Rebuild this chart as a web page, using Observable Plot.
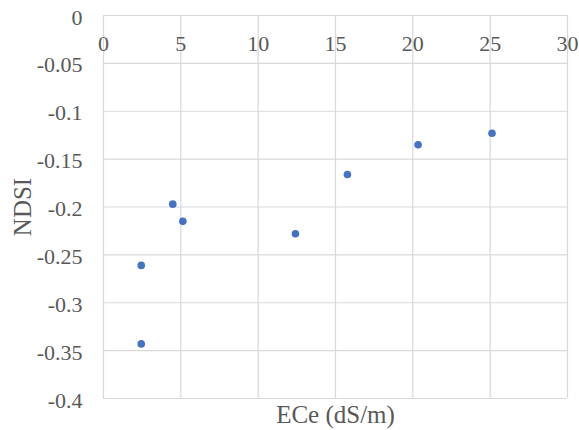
<!DOCTYPE html>
<html>
<head>
<meta charset="utf-8">
<script src="https://cdn.jsdelivr.net/npm/d3@7"></script>
<script src="https://cdn.jsdelivr.net/npm/@observablehq/plot@0.6"></script>
<style>
  html, body { margin: 0; padding: 0; background: #fff; }
  #chart svg { display: block; }
</style>
</head>
<body>
<div id="chart"></div>
<script>
const ece  = [2.44, 2.44, 4.48, 5.13, 12.41, 15.77, 20.34, 25.12];
const ndsi = [-0.261, -0.343, -0.197, -0.215, -0.228, -0.166, -0.135, -0.123];
const xTicks = [0, 5, 10, 15, 20, 25, 30];
const yTicks = [0, -0.05, -0.1, -0.15, -0.2, -0.25, -0.3, -0.35, -0.4];
const xTitle = "ECe (dS/m)";
const yTitle = "NDSI";

const data = ece.map((x, i) => ({x, y: ndsi[i]}));
const grid = "#d9d9d9";
const textColor = "#595959";
const font = "'Liberation Serif', 'DejaVu Serif'";

const chart = Plot.plot({
  width: 579,
  height: 430,
  marginLeft: 103,
  marginRight: 12,
  marginTop: 15,
  marginBottom: 32,
  style: {background: "#fff"},
  x: {domain: [0, 30]},
  y: {domain: [-0.4, 0]},
  marks: [
    Plot.ruleX(xTicks, {stroke: grid, strokeWidth: 1.2}),
    Plot.ruleY(yTicks, {stroke: grid, strokeWidth: 1.2}),
    Plot.axisX({anchor: "top", ticks: xTicks, tickSize: 0, tickPadding: 0, dy: 35,
      fontSize: 22, fontFamily: font, fill: textColor, label: null, tickFormat: d => String(d)}),
    Plot.axisY({anchor: "left", ticks: yTicks, tickSize: 0, tickPadding: 21, dy: 2,
      fontSize: 22, fontFamily: font, fill: textColor, label: null, tickFormat: d => String(d)}),
    Plot.dot(data, {x: "x", y: "y", r: 3.8, fill: "#4472C4", stroke: "none"}),
    Plot.text([xTitle], {frameAnchor: "bottom", dy: 16, lineAnchor: "middle", textAnchor: "middle",
      fontSize: 25, fontFamily: font, fill: textColor}),
    Plot.text([yTitle], {frameAnchor: "left", dx: -81, rotate: -90, lineAnchor: "middle", textAnchor: "middle",
      fontSize: 25, fontFamily: font, fill: textColor})
  ]
});
document.getElementById("chart").append(chart);
</script>
</body>
</html>
